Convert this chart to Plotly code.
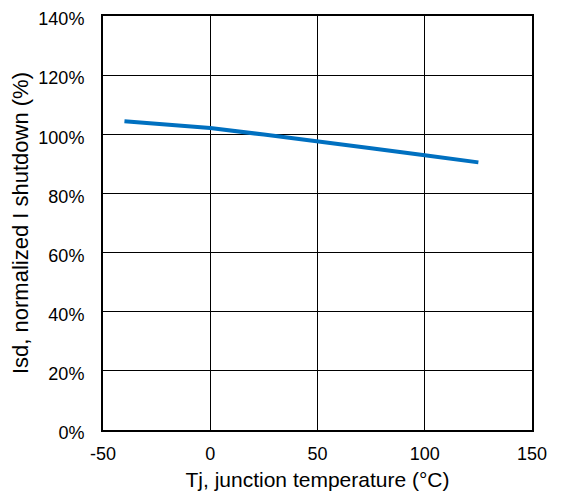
import plotly.graph_objects as go

temp_c = [-40, -20, 0, 25, 50, 75, 100, 125]
isd_pct = [104.4, 103.4, 102.1, 99.9, 97.7, 95.3, 92.9, 90.5]

x_ticks = [-50, 0, 50, 100, 150]
x_tick_labels = [str(v) for v in x_ticks]
y_ticks = [0, 20, 40, 60, 80, 100, 120, 140]
y_tick_labels = [f"{v}%" for v in y_ticks]

fig = go.Figure()
fig.add_trace(go.Scatter(x=temp_c, y=isd_pct, mode="lines",
                         line=dict(color="#0070C0", width=4), showlegend=False))

font = "Liberation Sans, Arial, sans-serif"
# page body has an 8px default margin, so figure is 8px smaller and offset
fig.update_layout(
    width=555, height=484,
    margin=dict(l=95, r=31, t=8, b=62),
    paper_bgcolor="white", plot_bgcolor="white",
    font=dict(family=font, size=18, color="black"),
    xaxis=dict(range=[-50, 150], tickvals=x_ticks, ticktext=x_tick_labels, showgrid=True,
               gridcolor="black", automargin=False, ticklabeloverflow="allow",
               gridwidth=1, zeroline=False, showline=True, linecolor="black", linewidth=2,
               mirror=True, ticks="", ticklabelstandoff=6,
               title=dict(text="Tj, junction temperature (°C)", font=dict(size=21), standoff=10)),
    yaxis=dict(range=[0, 140], tickvals=y_ticks, ticktext=y_tick_labels, showgrid=True,
               gridcolor="black", gridwidth=1, zeroline=False, showline=True, automargin=False,
               ticklabeloverflow="allow", ticklabelshift=3,
               linecolor="black", linewidth=2, mirror=True, ticks="", ticklabelstandoff=13,
               title=dict(text="Isd, normalized I shutdown (%)", font=dict(size=22), standoff=14)),
)
fig.write_html("out.html")
